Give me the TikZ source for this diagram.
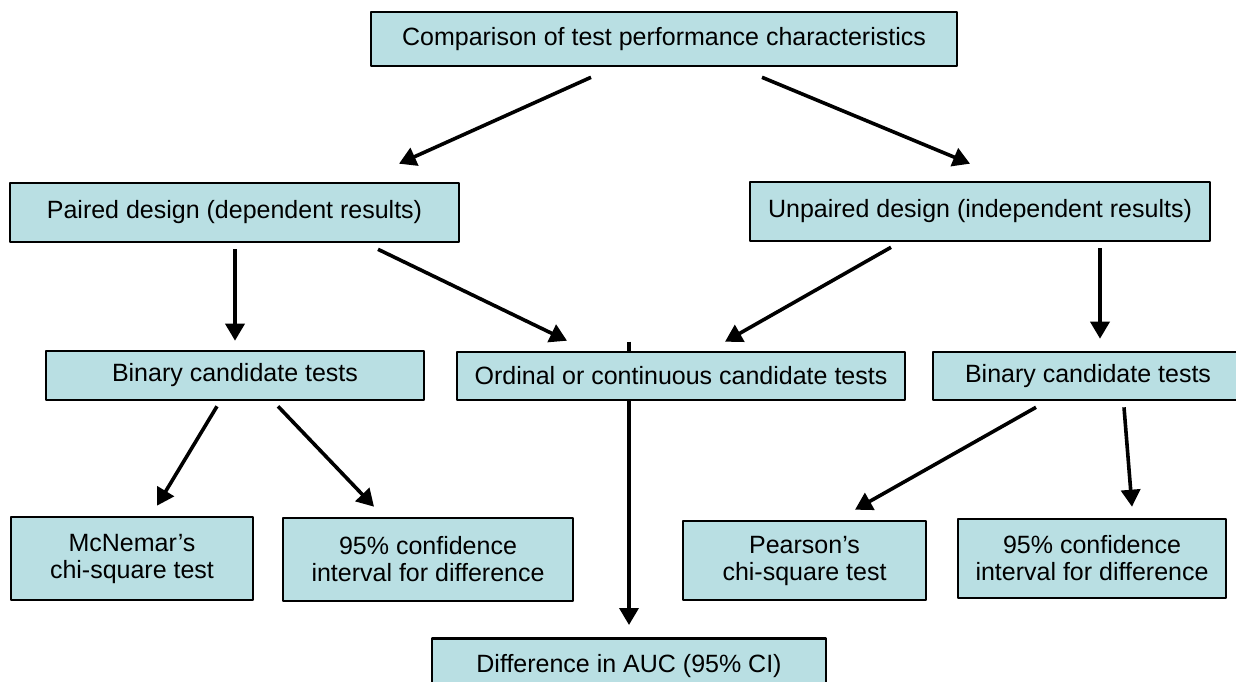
\documentclass[tikz,border=0pt]{standalone}
\usepackage{fontspec}
\setmainfont{Liberation Sans}
\usetikzlibrary{arrows.meta,calc}
\definecolor{boxblue}{HTML}{B9DFE3}
\begin{document}
\begin{tikzpicture}[x=0.5pt,y=-0.5pt,line join=round,>={Triangle[length=8.5pt,width=9.5pt]}]
	\tikzset{box/.style={draw=black,line width=1.3pt,fill=boxblue,inner sep=0pt,align=center,
			font=\fontsize{12.5}{13.5}\selectfont},
		arr/.style={->,line width=1.8pt}}
	\clip (0,0) rectangle (1236,681);
	% boxes
	\node[box,minimum width=293pt,minimum height=27pt] (top) at (664,39) {Comparison of test performance characteristics};
	\node[box,minimum width=224.5pt,minimum height=29.5pt] (paired) at (234.5,212.5) {Paired design (dependent results)};
	\node[box,minimum width=230pt,minimum height=29.5pt] (unpaired) at (980,211.5) {Unpaired design (independent results)};
	\node[box,minimum width=189pt,minimum height=24.5pt] (binl) at (235,375.5) {Binary candidate tests};
	\node[box,minimum width=224pt,minimum height=24pt] (ordinal) at (681,376) {Ordinal or continuous candidate tests};
	\node[box,minimum width=155pt,minimum height=24pt] (binr) at (1088,376) {Binary candidate tests};
	\node[box,minimum width=121pt,minimum height=41.5pt] (mcnemar) at (132,558.5) {McNemar’s\\chi-square test};
	\node[box,minimum width=145pt,minimum height=41.5pt] (cil) at (428,559.5) {95\% confidence\\interval for difference};
	\node[box,minimum width=121.5pt,minimum height=39.5pt] (pearson) at (804.5,560.5) {Pearson’s\\chi-square test};
	\node[box,minimum width=134pt,minimum height=39.5pt] (cir) at (1092,558.5) {95\% confidence\\interval for difference};
	\node[box,minimum width=197pt,minimum height=33pt,anchor=north] (auc) at (629,637) {\raisebox{8pt}{Difference in AUC (95\% CI)}};
	% connectors
	\draw[arr] ($(top.south)+(-73,10)$) -- ($(paired.north)+(164.5,-18)$);
	\draw[arr] ($(top.south)+(98,10)$) -- ($(unpaired.north)+(-10,-17)$);
	\draw[arr] ($(paired.south)+(0.5,6)$) -- ($(binl.north)+(0,-9)$);
	\draw[arr] ($(paired.south)+(143.5,6)$) -- ($(ordinal.north)+(-114,-10)$);
	\draw[arr] ($(unpaired.south)+(-89,5)$) -- ($(ordinal.north)+(44,-9)$);
	\draw[arr] ($(unpaired.south)+(120,6)$) -- ($(binr.north)+(12,-12)$);
	\draw[arr] ($(binl.south)+(-18,5)$) -- ($(mcnemar.north)+(25,-10)$);
	\draw[arr] ($(binl.south)+(43,5)$) -- ($(cil.north)+(-54,-10)$);
	\draw[arr] ($(binr.south)+(-52,6)$) -- ($(pearson.north)+(50.5,-10)$);
	\draw[arr] ($(binr.south)+(36,6)$) -- ($(cir.north)+(40,-11)$);
	\draw[line width=1.8pt] ($(ordinal.north)+(-52,-9)$) -- ($(ordinal.north)+(-52,0)$);
	\draw[arr] ($(ordinal.south)+(-52,0)$) -- ($(auc.north)+(0,-12)$);
\end{tikzpicture}
\end{document}
